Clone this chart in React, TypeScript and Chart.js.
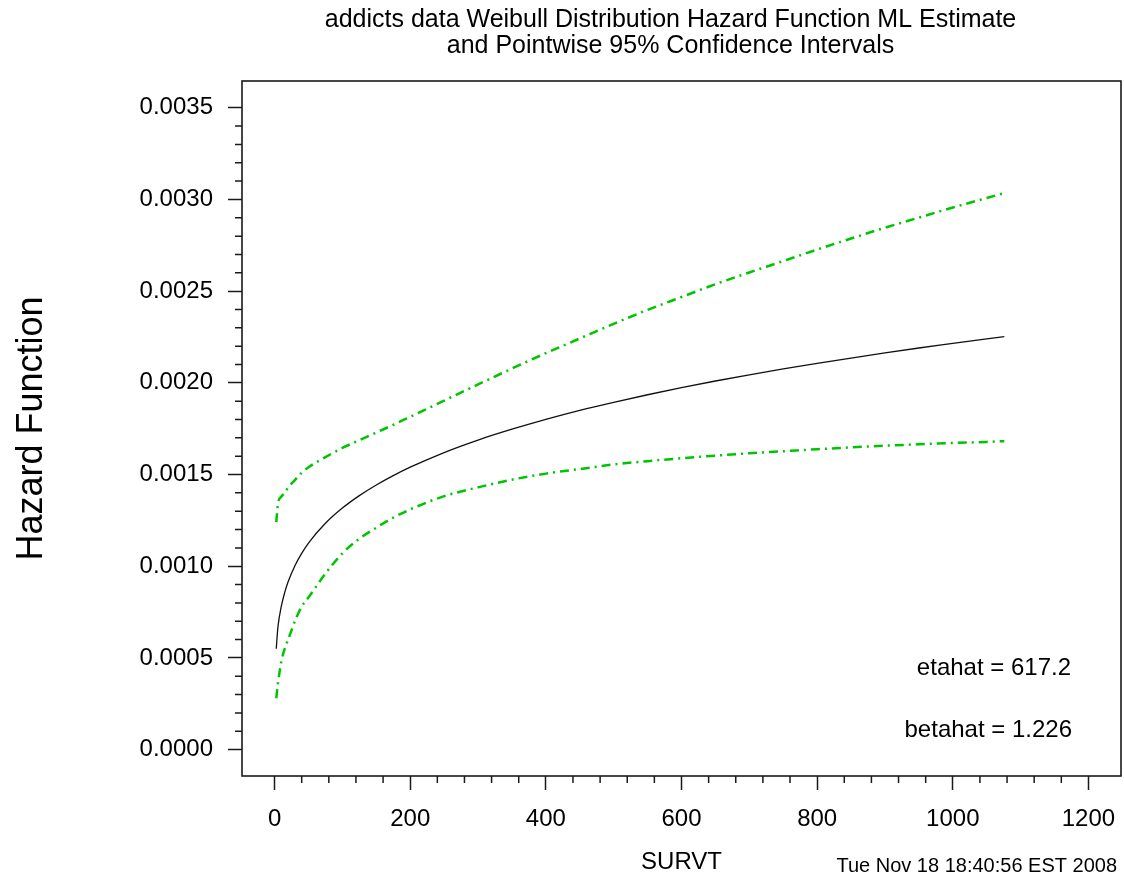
import React, { useEffect, useRef } from "react";
import { Chart, registerables } from "chart.js";

Chart.register(...registerables);

const titleLines = [
  "addicts data Weibull Distribution Hazard Function ML Estimate",
  "and Pointwise 95% Confidence Intervals",
];
const xAxisTitle = "SURVT";
const yAxisTitle = "Hazard Function";
const stampText = "Tue Nov 18 18:40:56 EST 2008";
const noteLines = ["etahat = 617.2", "betahat = 1.226"];

const timePoints = [2.5, 5, 10, 15, 20, 30, 40, 50, 75, 100, 125, 150, 175, 200, 250, 300, 350, 400, 450, 500, 550, 600, 650, 700, 750, 800, 850, 900, 950, 1000, 1050, 1076];
const hazardValues = [0.00055, 0.000669, 0.000782, 0.000857, 0.000915, 0.001003, 0.00107, 0.001126, 0.001234, 0.001317, 0.001385, 0.001443, 0.001494, 0.00154, 0.00162, 0.001688, 0.001747, 0.001801, 0.00185, 0.001894, 0.001935, 0.001974, 0.00201, 0.002044, 0.002076, 0.002106, 0.002135, 0.002163, 0.00219, 0.002215, 0.00224, 0.002252];
const lowerValues = [0.00028, 0.00036, 0.00048, 0.00055, 0.0006, 0.0007, 0.00078, 0.00083, 0.00096, 0.00107, 0.00115, 0.00121, 0.001265, 0.00131, 0.001382, 0.00143, 0.001472, 0.001505, 0.00153, 0.001555, 0.001573, 0.001589, 0.001603, 0.001616, 0.001627, 0.001638, 0.001648, 0.001657, 0.001665, 0.001672, 0.001678, 0.001682];
const upperValues = [0.00124, 0.00134, 0.00138, 0.0014, 0.00143, 0.00147, 0.00151, 0.00154, 0.001595, 0.001645, 0.001687, 0.001729, 0.001771, 0.001815, 0.001903, 0.001991, 0.002078, 0.002162, 0.002242, 0.002322, 0.002398, 0.002468, 0.002538, 0.002602, 0.002664, 0.002727, 0.002787, 0.002846, 0.002901, 0.002956, 0.003008, 0.003035];

const xTicks = [0, 200, 400, 600, 800, 1000, 1200];
const yTicks = [0, 0.0005, 0.001, 0.0015, 0.002, 0.0025, 0.003, 0.0035];
const xMinorStep = 40;
const yMinorStep = 0.0001;

const FONT = 'Arial, "Liberation Sans", sans-serif';
const GREEN = "#00c400";
const AXIS = "#1a1a1a";

const toXY = (vals: number[]) => timePoints.map((t, i) => ({ x: t, y: vals[i] }));

export default function App() {
  const ref = useRef<HTMLCanvasElement | null>(null);

  useEffect(() => {
    if (!ref.current) return;

    const framePlugin = {
      id: "frameAndMinor",
      afterDraw(chart: any) {
        const { ctx, chartArea } = chart;
        const xs = chart.scales.x;
        const ys = chart.scales.y;
        ctx.save();
        ctx.strokeStyle = AXIS;
        ctx.lineWidth = 1.6;
        ctx.strokeRect(chartArea.left, chartArea.top, chartArea.right - chartArea.left, chartArea.bottom - chartArea.top);
        ctx.beginPath();
        ctx.lineWidth = 1.5;
        const xMax = xTicks[xTicks.length - 1];
        for (let v = xMinorStep; v < xMax; v += xMinorStep) {
          if (v % 200 === 0) continue;
          const px = xs.getPixelForValue(v);
          ctx.moveTo(px, chartArea.bottom);
          ctx.lineTo(px, chartArea.bottom + 7);
        }
        const yMax = yTicks[yTicks.length - 1];
        const n = Math.round(yMax / yMinorStep);
        for (let i = 1; i < n; i++) {
          if (i % 5 === 0) continue;
          const py = ys.getPixelForValue(i * yMinorStep);
          ctx.moveTo(chartArea.left, py);
          ctx.lineTo(chartArea.left - 7, py);
        }
        ctx.stroke();

        ctx.fillStyle = "#000";
        ctx.textBaseline = "middle";

        ctx.font = `25px ${FONT}`;
        ctx.textAlign = "center";
        const cx = (chartArea.left + chartArea.right) / 2 - 11;
        ctx.fillText(titleLines[0], cx, 20);
        ctx.fillText(titleLines[1], cx, 46);

        ctx.font = `24px ${FONT}`;
        ctx.textAlign = "right";
        ctx.fillText(noteLines[0], chartArea.right - 50, chartArea.bottom - 108);
        ctx.fillText(noteLines[1], chartArea.right - 49, chartArea.bottom - 46);

        ctx.font = `20px ${FONT}`;
        ctx.fillText(stampText, chart.width - 7, chart.height - 13);
        ctx.restore();
      },
    };

    const chart = new Chart(ref.current, {
      type: "line",
      data: {
        datasets: [
          {
            label: "upper",
            data: toXY(upperValues),
            borderColor: GREEN,
            borderWidth: 2.5,
            borderDash: [9, 5, 2, 5],
            pointRadius: 0,
            cubicInterpolationMode: "monotone",
            fill: false,
          },
          {
            label: "hazard",
            data: toXY(hazardValues),
            borderColor: "#111111",
            borderWidth: 1.3,
            pointRadius: 0,
            cubicInterpolationMode: "monotone",
            fill: false,
          },
          {
            label: "lower",
            data: toXY(lowerValues),
            borderColor: GREEN,
            borderWidth: 2.5,
            borderDash: [9, 5, 2, 5],
            pointRadius: 0,
            cubicInterpolationMode: "monotone",
            fill: false,
          },
        ],
      },
      options: {
        animation: false,
        responsive: false,
        maintainAspectRatio: false,
        layout: { padding: { left: 0, right: 3, top: 81, bottom: 0 } },
        plugins: {
          legend: { display: false },
          tooltip: { enabled: false },
          title: { display: false },
        },
        scales: {
          x: {
            type: "linear",
            min: -48,
            max: 1248,
            afterBuildTicks: (s: any) => {
              s.ticks = xTicks.map((v) => ({ value: v }));
            },
            afterFit: (s: any) => {
              s.height = 103;
              s.paddingLeft = 0;
              s.paddingRight = 0;
            },
            border: { display: false },
            grid: { drawOnChartArea: false, drawTicks: true, tickLength: 14, tickColor: AXIS, tickWidth: 1.5 },
            ticks: {
              color: "#000",
              font: { family: FONT, size: 24 },
              padding: 15,
              maxRotation: 0,
              callback: (v: any) => String(v),
            },
            title: {
              display: true,
              text: xAxisTitle,
              color: "#000",
              font: { family: FONT, size: 24 },
              padding: { top: 0, bottom: 2 },
            },
          },
          y: {
            type: "linear",
            min: -0.000144,
            max: 0.003646,
            afterBuildTicks: (s: any) => {
              s.ticks = yTicks.map((v) => ({ value: v }));
            },
            afterFit: (s: any) => {
              s.width = 242;
              s.paddingTop = 0;
              s.paddingBottom = 0;
            },
            border: { display: false },
            grid: { drawOnChartArea: false, drawTicks: true, tickLength: 14, tickColor: AXIS, tickWidth: 1.5 },
            ticks: {
              color: "#000",
              font: { family: FONT, size: 24 },
              padding: 15,
              callback: (v: any) => Number(v).toFixed(4),
            },
            title: {
              display: true,
              text: yAxisTitle,
              color: "#000",
              font: { family: FONT, size: 36 },
              padding: { top: 10, bottom: 0 },
            },
          },
        },
      },
      plugins: [framePlugin],
    } as any);

    return () => chart.destroy();
  }, []);

  return (
    <div style={{ position: "absolute", left: 0, top: 0, width: 1124, height: 879, background: "#fff" }}>
      <canvas ref={ref} width={1124} height={879} style={{ display: "block" }} />
    </div>
  );
}
